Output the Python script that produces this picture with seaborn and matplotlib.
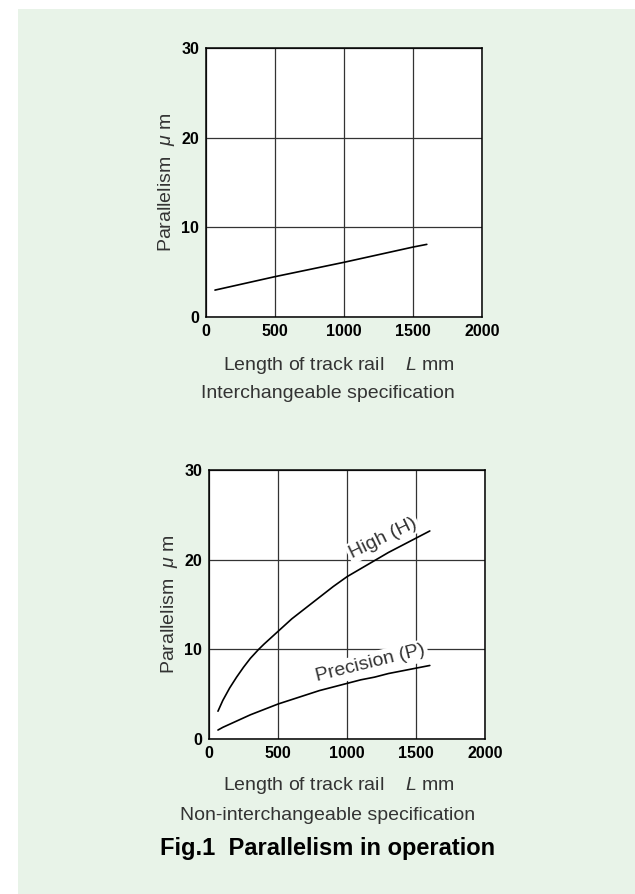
import numpy as np
import pandas as pd
import matplotlib
matplotlib.use("Agg")
import matplotlib.pyplot as plt
import seaborn as sns
from matplotlib.patches import Rectangle

# ---- data ----
top_length = [65, 500, 1000, 1500, 1600]
top_parallel = [3.0, 4.5, 6.1, 7.8, 8.1]

high_length = [65, 100, 150, 200, 250, 300, 360, 400, 500, 600, 700, 800, 900,
               1000, 1100, 1200, 1300, 1400, 1500, 1600]
high_parallel = [3.1, 4.3, 5.7, 6.9, 8.0, 9.0, 10.0, 10.6, 12.0, 13.4, 14.6, 15.8,
                 17.0, 18.1, 19.0, 19.9, 20.8, 21.6, 22.4, 23.2]

prec_length = [65, 100, 200, 300, 400, 500, 600, 700, 800, 900, 1000, 1100, 1200,
               1300, 1400, 1500, 1600]
prec_parallel = [1.0, 1.3, 2.0, 2.7, 3.3, 3.9, 4.4, 4.9, 5.4, 5.8, 6.2, 6.6, 6.9,
                 7.3, 7.6, 7.9, 8.2]

xticks = [0, 500, 1000, 1500, 2000]
yticks = [0, 10, 20, 30]

sns.set_theme(style="white")
plt.rcParams['font.family'] = ['Liberation Sans', 'DejaVu Sans']
plt.rcParams['mathtext.fontset'] = 'custom'
plt.rcParams['mathtext.it'] = 'Liberation Sans:italic'
plt.rcParams['mathtext.rm'] = 'Liberation Sans'

fig = plt.figure(figsize=(6.35, 8.94), dpi=100)
fig.patch.set_facecolor('white')
bg = Rectangle((18/635, 0), 1 - 18/635, 1 - 9/894,
               transform=fig.transFigure, facecolor='#e8f3e8',
               edgecolor='none', zorder=-10)
fig.add_artist(bg)

ax1 = fig.add_axes([206/635, 1 - 317/894, 276/635, 269/894])
ax2 = fig.add_axes([209/635, 1 - 739/894, 276/635, 269/894])
ax1.set_zorder(2)
ax2.set_zorder(2)

df_top = pd.DataFrame({'L': top_length, 'P': top_parallel})
df_h = pd.DataFrame({'L': high_length, 'P': high_parallel})
df_p = pd.DataFrame({'L': prec_length, 'P': prec_parallel})

sns.lineplot(data=df_top, x='L', y='P', ax=ax1, color='black', lw=1.2, zorder=3)
sns.lineplot(data=df_h, x='L', y='P', ax=ax2, color='black', lw=1.2, zorder=3)
sns.lineplot(data=df_p, x='L', y='P', ax=ax2, color='black', lw=1.2, zorder=3)

text_col = '#333333'
for ax in (ax1, ax2):
    ax.set_facecolor('white')
    ax.set_xlim(0, 2000)
    ax.set_ylim(0, 30)
    ax.set_xticks(xticks)
    ax.set_yticks(yticks)
    ax.set_xticklabels([str(v) for v in xticks], fontweight='bold', fontsize=11.5, color='black')
    ax.set_yticklabels([str(v) for v in yticks], fontweight='bold', fontsize=11.5, color='black')
    ax.tick_params(length=0, pad=5)
    ax.grid(True, color='#333333', lw=0.9)
    ax.set_axisbelow(True)
    for s in ax.spines.values():
        s.set_visible(True)
        s.set_color('black')
        s.set_linewidth(1.1)
    ax.set_xlabel('')
    ax.set_ylabel(r'Parallelism  $\mu$ m', fontsize=14, color=text_col, labelpad=3)

fig.text(339/635, 1 - 365/894, r'Length of track rail    $L$ mm', ha='center', va='center',
         fontsize=14, color=text_col)
fig.text(328/635, 1 - 393/894, 'Interchangeable specification', ha='center', va='center',
         fontsize=14, color=text_col)
fig.text(339/635, 1 - 786/894, r'Length of track rail    $L$ mm', ha='center', va='center',
         fontsize=14, color=text_col)
fig.text(328/635, 1 - 816/894, 'Non-interchangeable specification', ha='center', va='center',
         fontsize=14, color=text_col)
fig.text(328/635, 1 - 849/894, 'Fig.1  Parallelism in operation', ha='center', va='center',
         fontsize=17, fontweight='bold', color='black')

ax2.text(1260, 22.4, 'High (H)', rotation=26, ha='center', va='center', fontsize=14,
         color=text_col, zorder=4, rotation_mode='anchor',
         bbox=dict(facecolor='white', edgecolor='none', pad=1.5))
ax2.text(1170, 8.4, 'Precision (P)', rotation=14, ha='center', va='center', fontsize=14,
         color=text_col, zorder=4, rotation_mode='anchor',
         bbox=dict(facecolor='white', edgecolor='none', pad=2))

fig.savefig('out.png', dpi=100, facecolor=fig.get_facecolor())
